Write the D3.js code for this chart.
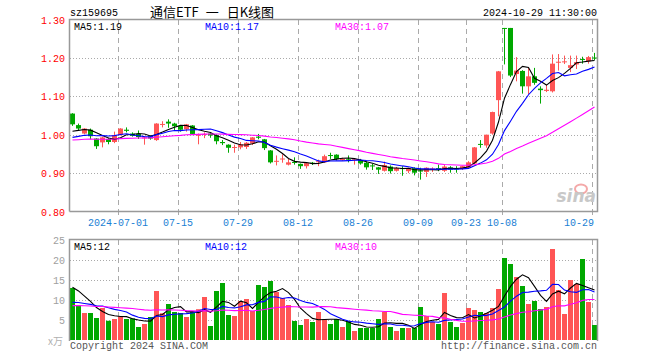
<!DOCTYPE html>
<html><head><meta charset="utf-8">
<script src="https://cdn.jsdelivr.net/npm/d3@7"></script>
<style>
html,body{margin:0;padding:0;background:#fff;}
svg text{font-family:"Liberation Mono","DejaVu Sans Mono",monospace;font-size:10px;}
</style></head>
<body><svg id="c" width="660" height="360"></svg>
<script>
const code = "sz159695";
const titleParts = ["通信ETF", "一", "日K线图"];
const stamp = "2024-10-29 11:30:00";
const tickIndex = [8,18,28,38,48,58,66,72,87];
const tickLabels = ["2024-07-01","07-15","07-29","08-12","08-26","09-09","09-23","10-08","10-29"];
const priceTicks = [1.30,1.20,1.10,1.00,0.90,0.80];
const volTicks = [25,20,15,10,5];
const open = [1.055,1.025,1.003,1.013,0.990,0.980,0.989,0.981,0.999,1.013,1.003,1.002,0.991,0.996,0.986,1.027,1.034,1.029,1.023,1.014,1.024,0.998,1.000,1.003,0.999,0.981,0.974,0.966,0.967,0.968,0.977,0.995,0.988,0.959,0.930,0.936,0.922,0.929,0.924,0.918,0.927,0.929,0.928,0.947,0.948,0.934,0.936,0.934,0.934,0.927,0.920,0.915,0.906,0.917,0.906,0.913,0.905,0.913,0.907,0.903,0.911,0.913,0.906,0.915,0.912,0.911,0.914,0.925,0.976,0.972,1.003,1.090,1.278,1.278,1.158,1.166,1.126,1.152,1.120,1.114,1.113,1.188,1.189,1.174,1.183,1.197,1.191,1.201];
const high = [1.056,1.029,1.017,1.016,0.991,0.995,0.992,1.008,1.017,1.019,1.006,1.011,0.994,0.998,1.030,1.035,1.040,1.031,1.024,1.028,1.025,1.003,1.006,1.006,1.001,0.986,0.975,0.974,0.981,0.981,0.994,1.002,0.989,0.960,0.946,0.949,0.937,0.941,0.925,0.927,0.929,0.935,0.948,0.953,0.949,0.940,0.946,0.937,0.937,0.931,0.924,0.916,0.930,0.920,0.916,0.918,0.914,0.915,0.914,0.915,0.915,0.922,0.921,0.918,0.918,0.919,0.931,0.968,0.986,1.000,1.060,1.166,1.278,1.278,1.202,1.168,1.174,1.174,1.126,1.130,1.209,1.210,1.206,1.206,1.206,1.203,1.205,1.213];
const low = [1.023,1.011,1.001,0.988,0.963,0.967,0.975,0.978,0.998,1.006,0.995,0.989,0.974,0.987,0.984,1.019,1.018,1.012,1.008,1.008,1.000,0.975,0.991,0.992,0.975,0.973,0.953,0.953,0.962,0.963,0.973,0.988,0.960,0.925,0.920,0.927,0.920,0.922,0.911,0.912,0.921,0.918,0.927,0.937,0.933,0.932,0.928,0.922,0.922,0.909,0.908,0.898,0.904,0.899,0.904,0.893,0.900,0.894,0.883,0.890,0.903,0.905,0.903,0.901,0.901,0.908,0.912,0.923,0.966,0.966,1.000,1.048,1.183,1.150,1.139,1.107,1.105,1.130,1.081,1.111,1.110,1.167,1.184,1.163,1.171,1.185,1.185,1.194];
const close = [1.027,1.016,1.016,0.996,0.970,0.993,0.981,0.999,1.016,1.010,0.997,0.994,0.993,0.990,1.029,1.028,1.029,1.022,1.013,1.027,1.002,1.000,1.002,0.998,0.983,0.978,0.966,0.968,0.975,0.979,0.993,0.992,0.965,0.928,0.932,0.938,0.928,0.927,0.918,0.926,0.925,0.931,0.944,0.945,0.937,0.937,0.934,0.936,0.925,0.915,0.918,0.909,0.921,0.905,0.913,0.911,0.913,0.901,0.904,0.914,0.912,0.911,0.917,0.909,0.910,0.918,0.928,0.967,0.974,1.000,1.059,1.165,1.277,1.154,1.167,1.126,1.152,1.135,1.116,1.117,1.185,1.190,1.191,1.181,1.189,1.195,1.202,1.199];
const volume = [13.0,8.6,6.75,6.75,5.5,8.0,4.8,5.25,5.9,5.25,5.4,3.25,4.0,5.75,12.25,6.7,9.0,7.0,6.75,5.75,7.0,7.7,10.75,3.5,12.25,14.25,6.25,6.0,9.75,10.25,7.25,13.75,13.25,14.75,12.0,10.5,8.75,4.75,3.75,5.25,4.5,7.0,5.2,4.0,5.25,3.25,4.75,2.25,3.0,3.0,3.0,5.25,7.0,3.25,2.25,3.0,3.0,3.0,8.25,6.0,4.5,4.0,11.75,4.5,3.25,4.25,8.0,7.5,7.0,6.75,8.0,12.75,20.5,19.0,15.75,13.5,9.0,9.75,7.75,8.25,22.75,12.5,6.5,15.0,14.0,20.25,9.5,3.75];
const maPeriods = [5,10,30];
const maColors = ["#000000","#0000ff","#ff00ff"];
const priceMAStart = [1.009,0.993,0.986];   // MA values at the first day
const volMAStart = [13.2,9.4,8.6];
const priceMALabels = ["MA5:1.19","MA10:1.17","MA30:1.07"];
const volMALabels = ["MA5:12","MA10:12","MA30:10"];

const RED = "#ff5555", GREEN = "#00a800", GRID = "#aaaaaa";
const svg = d3.select("#c");
const n = close.length;
const x = d3.scaleLinear().domain([0, n]).range([70, 70 + 6*n]);
const yP = d3.scaleLinear().domain([0.8, 1.3]).range([211.5, 19.5]);
const yV = d3.scaleLinear().domain([0, 25]).range([340, 240]);
const L = 70, R = 70 + 6*n;

function ma(arr, p, start) {
  const seed = (p*start - arr[0])/(p-1);
  return arr.map((_, i) => {
    let s = 0;
    for (let k = 0; k < p; k++) { const j = i-k; s += j >= 0 ? arr[j] : seed; }
    return s/p;
  });
}
const up = close.map((c,i) => c >= open[i]);

// ---- Header
svg.append("text").attr("x",70).attr("y",16).attr("fill","#000").text(code);
const tt = svg.append("text").attr("x",150).attr("y",17)
  .style("font-family","'Noto Sans CJK SC',sans-serif").style("font-size","13px").attr("fill","#000");
tt.append("tspan").text(titleParts[0]);
tt.append("tspan").attr("dx",7).text(titleParts[1]);
tt.append("tspan").attr("dx",8).text(titleParts[2]);
svg.append("text").attr("x",597).attr("y",16).attr("text-anchor","end").attr("fill","#000").text(stamp);

// ---- Price panel grid
const gP = svg.append("g");
priceTicks.slice(1,-1).forEach(t => {
  gP.append("line").attr("x1",L).attr("x2",R).attr("y1",Math.round(yP(t))+0.5).attr("y2",Math.round(yP(t))+0.5)
    .attr("stroke",GRID).attr("stroke-dasharray","1,2");
});
tickIndex.forEach(i => {
  gP.append("line").attr("x1",x(i)+0.5).attr("x2",x(i)+0.5).attr("y1",20).attr("y2",211)
    .attr("stroke",GRID).attr("stroke-dasharray","5,4");
  gP.append("line").attr("x1",x(i)+0.5).attr("x2",x(i)+0.5).attr("y1",211).attr("y2",215).attr("stroke",GRID);
});
priceTicks.forEach(t => {
  gP.append("text").attr("x",65).attr("y",yP(t)+4).attr("text-anchor","end").attr("fill","#ff0000").text(t.toFixed(2));
});
tickIndex.forEach((i,k) => {
  const t = svg.append("text").attr("y",226).attr("fill","#1a7fd4").text(tickLabels[k]);
  const w = tickLabels[k].length*6;
  let cx = x(i);
  if (cx + w/2 > R) cx = R - 4 - w/2;
  t.attr("x",cx).attr("text-anchor","middle");
});

// watermark
svg.append("ellipse").attr("cx",581).attr("cy",189).attr("rx",6).attr("ry",4.5).attr("fill","none")
  .attr("stroke","#f4a9a9").attr("stroke-width",2);
svg.append("text").attr("x",596).attr("y",202).attr("text-anchor","end")
  .style("font-family","'DejaVu Sans',sans-serif").style("font-size","17px").style("font-style","italic").style("font-weight","bold")
  .attr("fill","#c8c8c8").text("sina");

// candles
const gC = svg.append("g");
for (let i = 0; i < n; i++) {
  const col = up[i] ? RED : GREEN;
  const cx = x(i) + 2.5;
  gC.append("line").attr("x1",cx).attr("x2",cx).attr("y1",yP(high[i])).attr("y2",yP(low[i])).attr("stroke",col).attr("stroke-width",1);
  const y0 = Math.min(yP(open[i]), yP(close[i]));
  const h = Math.max(1, Math.abs(yP(open[i]) - yP(close[i])));
  gC.append("rect").attr("x",x(i)).attr("y",y0).attr("width",5).attr("height",h).attr("fill",col);
}
// price MAs
maPeriods.forEach((p,k) => {
  const m = ma(close, p, priceMAStart[k]);
  svg.append("path").datum(m).attr("fill","none").attr("stroke",maColors[k]).attr("stroke-width",1.1)
    .attr("d", d3.line().x((d,i) => x(i)+2.5).y(d => yP(d)));
});
// frame
svg.append("path").attr("d",`M${L-0.5},${211.5}V19.5H${R-0.5}V211.5H${L-0.5}`).attr("fill","none").attr("stroke","#999").attr("stroke-width",1.5);
[[74,0],[205,1],[335,2]].forEach(([px,k]) => {
  svg.append("text").attr("x",px).attr("y",30).attr("fill",maColors[k]).text(priceMALabels[k]);
});

// ---- Volume panel
const gV = svg.append("g");
volTicks.slice(1).forEach(t => {
  gV.append("line").attr("x1",L).attr("x2",R).attr("y1",yV(t)+0.5).attr("y2",yV(t)+0.5)
    .attr("stroke",GRID).attr("stroke-dasharray","1,2");
});
tickIndex.forEach(i => {
  gV.append("line").attr("x1",x(i)+0.5).attr("x2",x(i)+0.5).attr("y1",240).attr("y2",340)
    .attr("stroke",GRID).attr("stroke-dasharray","5,4");
});
volTicks.forEach(t => {
  gV.append("text").attr("x",65).attr("y",yV(t)+4).attr("text-anchor","end").attr("fill","#a0a0a0").text(t);
});
svg.append("text").attr("x",63).attr("y",345).attr("text-anchor","end")
  .style("font-family","'Noto Sans CJK SC',sans-serif").style("font-size","10px").attr("fill","#b0b0b0").text("x万");
for (let i = 0; i < n; i++) {
  gV.append("rect").attr("x",x(i)).attr("y",yV(volume[i])).attr("width",5).attr("height",340 - yV(volume[i]))
    .attr("fill", up[i] ? RED : GREEN);
}
maPeriods.forEach((p,k) => {
  const m = ma(volume, p, volMAStart[k]);
  svg.append("path").datum(m).attr("fill","none").attr("stroke",maColors[k]).attr("stroke-width",1.1)
    .attr("d", d3.line().x((d,i) => x(i)+2.5).y(d => yV(d)));
});
svg.append("path").attr("d",`M${L-0.5},341V239.5H${R-0.5}V341`).attr("fill","none").attr("stroke","#999").attr("stroke-width",1.5);
[[74,0],[205,1],[335,2]].forEach(([px,k]) => {
  svg.append("text").attr("x",px).attr("y",250).attr("fill",maColors[k]).text(volMALabels[k]);
});
svg.append("text").attr("x",70).attr("y",349).attr("fill","#555").text("Copyright 2024 SINA.COM");
svg.append("text").attr("x",597).attr("y",349).attr("text-anchor","end").attr("fill","#555").text("http://finance.sina.com.cn");
</script></body></html>
